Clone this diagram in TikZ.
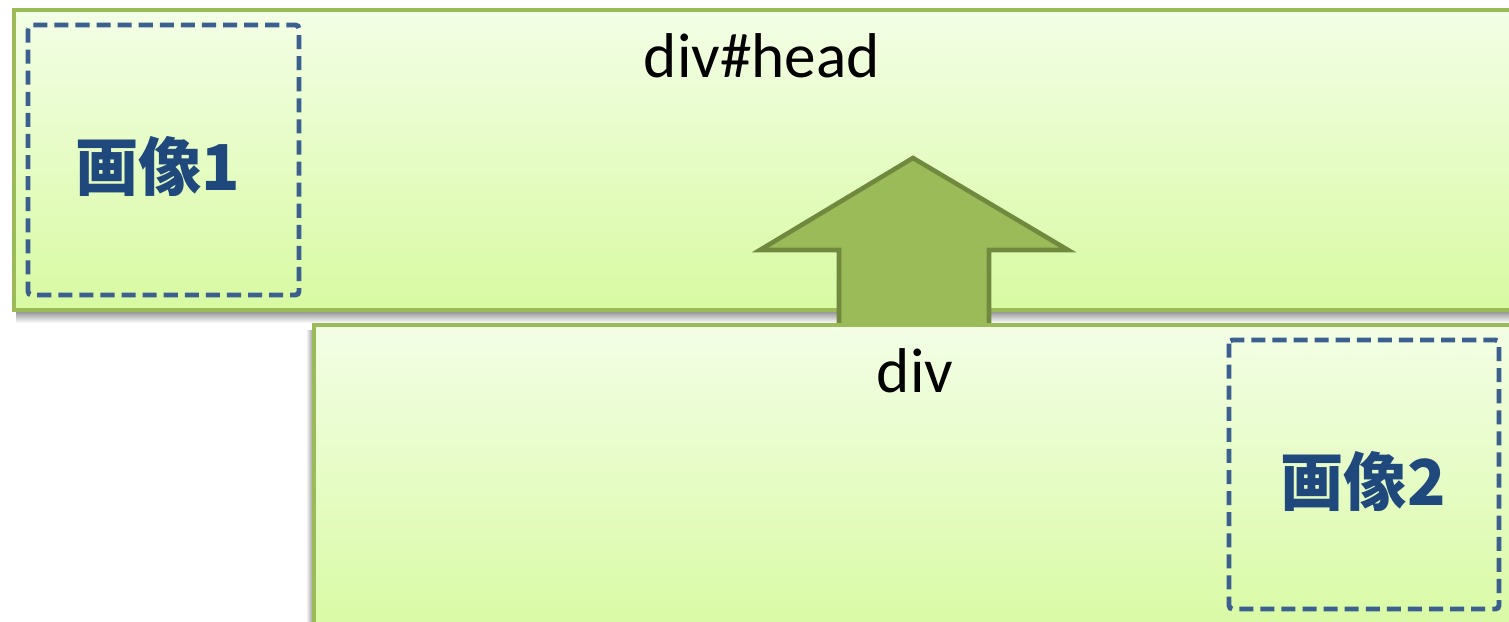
\documentclass[tikz,border=0pt]{standalone}
\usepackage{fontspec}
\setmainfont{Carlito}
\newfontfamily\jpfont{Noto Sans CJK JP}
\usetikzlibrary{positioning}

\definecolor{boxline}{HTML}{9BBB59}
\definecolor{boxtop}{HTML}{F3FEE6}
\definecolor{boxbottom}{HTML}{D8FAA2}
\definecolor{arrowfill}{HTML}{9BBB59}
\definecolor{arrowline}{HTML}{71893F}
\definecolor{imgline}{HTML}{3B5F8E}
\definecolor{imgtext}{HTML}{1F497D}

\tikzset{
	layerbox/.style={draw=boxline, line width=2.8pt, top color=boxtop, bottom color=boxbottom},
	imgbox/.style={draw=imgline, line width=2.8pt, dash pattern=on 8pt off 4pt, rounded corners=2pt},
	imglabel/.style={text=imgtext, anchor=base, font=\jpfont\bfseries\fontsize{36}{40}\selectfont},
	taglabel/.style={anchor=base, font=\fontsize{36}{40}\selectfont},
	uparrow/.style={draw=arrowline, fill=arrowfill, line width=2.6pt, line join=miter}
}

\begin{document}
\begin{tikzpicture}[x=0.02cm, y=-0.02cm]
	\useasboundingbox (0, 0) rectangle (1509, 622);
	\fill[white] (0, 0) rectangle (1509, 622);
	\clip (0, 0) rectangle (1509, 622);
	% outer div#head
	\shade[top color=black!40, bottom color=white] (16, 312) rectangle (1530, 323);
	\path[layerbox] (14, 10) rectangle (1530, 310);
	\node[taglabel] (head) at (762, 77) {div\#head};
	\draw[imgbox] (28, 25) rectangle (299, 295);
	\node[imglabel] (img1) at (158, 190) {画像1};
	% arrow
	\coordinate (tip) at (913, 158);
	\coordinate (wingL) at (760, 250);
	\coordinate (wingR) at (1068, 250);
	\draw[uparrow] (839, 326) -- (839, 250) -- (wingL) -- (tip) -- (wingR) -- (989, 250) -- (989, 326);
	% lower div
	\shade[left color=white, right color=black!35] (306, 330) rectangle (312, 622);
	\path[layerbox] (314, 325) rectangle (1530, 640);
	\node[taglabel] (body) at (915, 392) {div};
	\draw[imgbox] (1229, 340) rectangle (1499, 609);
	\node[imglabel] (img2) at (1363, 505) {画像2};
\end{tikzpicture}
\end{document}
